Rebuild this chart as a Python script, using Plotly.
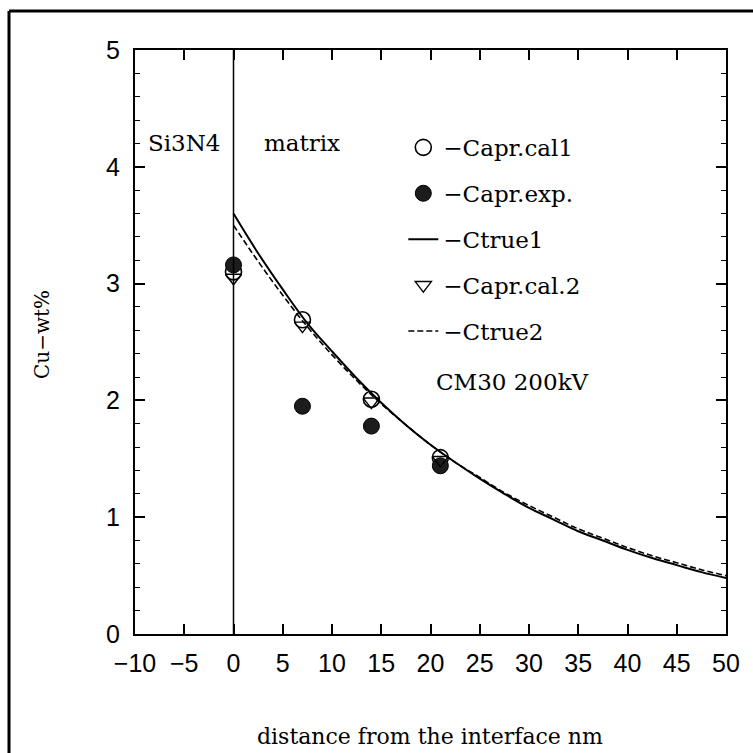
import plotly.graph_objects as go

# Measured Cu concentration near the Si3N4 / matrix interface
meas_x = [0, 7, 14, 21]
capr_cal1 = [3.10, 2.69, 2.01, 1.51]
capr_exp = [3.16, 1.95, 1.78, 1.44]
capr_cal2 = [3.05, 2.64, 1.99, 1.49]

# True concentration profiles
prof_x = [0, 2.5, 5, 7.5, 10, 12.5, 15, 17.5, 20, 22.5, 25,
          27.5, 30, 32.5, 35, 37.5, 40, 42.5, 45, 47.5, 50]
ctrue1 = [3.60, 3.26, 2.95, 2.66, 2.42, 2.19, 1.98, 1.79, 1.62, 1.47, 1.33,
          1.20, 1.08, 0.98, 0.88, 0.80, 0.72, 0.65, 0.59, 0.53, 0.48]
ctrue2 = [3.50, 3.19, 2.90, 2.63, 2.39, 2.17, 1.97, 1.79, 1.62, 1.47, 1.34,
          1.21, 1.10, 1.00, 0.90, 0.82, 0.74, 0.67, 0.61, 0.55, 0.50]

interface_x = 0
x_ticks = list(range(-10, 55, 5))
y_ticks = [0, 1, 2, 3, 4, 5]

serif = "DejaVu Serif"
sans = "Liberation Sans"

fig = go.Figure()

fig.add_trace(go.Scatter(
    x=meas_x, y=capr_cal1, mode="markers", name="\u2212Capr.cal1",
    legendgroup="a",
    marker=dict(symbol="circle-open", size=16, color="black",
                line=dict(width=1.6, color="black")),
))
fig.add_trace(go.Scatter(
    x=meas_x, y=capr_exp, mode="markers", name="\u2212Capr.exp.",
    legendgroup="b",
    marker=dict(symbol="circle", size=16, color="#1c1c1c",
                line=dict(width=1, color="black")),
))
fig.add_trace(go.Scatter(
    x=prof_x, y=ctrue1, mode="lines", name="\u2212Ctrue1",
    legendgroup="c", line=dict(color="black", width=2, shape="spline"),
))
fig.add_trace(go.Scatter(
    x=meas_x, y=capr_cal2, mode="markers", name="\u2212Capr.cal.2",
    legendgroup="d",
    marker=dict(symbol="triangle-down-open", size=14, color="black",
                line=dict(width=1.4, color="black")),
))
fig.add_trace(go.Scatter(
    x=prof_x, y=ctrue2, mode="lines", name="\u2212Ctrue2",
    legendgroup="e",
    line=dict(color="black", width=1.6, shape="spline", dash="6px,3px"),
))

# Interface line
fig.add_vline(x=interface_x, line=dict(color="black", width=1.5))

# Page frame: left and top edges
frame = dict(color="black", width=3)
fig.add_shape(type="line", xref="paper", yref="paper",
              x0=-0.2132, x1=-0.2132, y0=-0.3, y1=1.0668, line=frame)
fig.add_shape(type="line", xref="paper", yref="paper",
              x0=-0.2132, x1=1.2, y0=1.0668, y1=1.0668, line=frame)

txt = dict(family=serif, size=23, color="black")
fig.add_annotation(x=-5, y=4.2, text="Si3N4", showarrow=False, font=txt)
fig.add_annotation(x=7, y=4.2, text="matrix", showarrow=False, font=txt)
fig.add_annotation(x=20.4, y=2.16, text="CM30 200kV", showarrow=False,
                   font=txt, xanchor="left")

fig.add_annotation(xref="paper", yref="paper", x=0.499, y=-0.2,
                   text="distance from the interface nm", showarrow=False,
                   font=dict(family=serif, size=22, color="black"))
fig.add_annotation(xref="paper", yref="paper", x=-0.181, y=0.512,
                   text="Cu\u2212wt%", showarrow=False, textangle=-90,
                   font=dict(family=serif, size=20, color="black"))

axis_common = dict(
    showline=True, linecolor="black", linewidth=2, mirror="ticks",
    ticks="inside", tickcolor="black", tickwidth=1.5, ticklen=10,
    showgrid=False, zeroline=False,
    tickfont=dict(family=sans, size=25, color="black"),
)

fig.update_xaxes(range=[-10, 50], tickvals=x_ticks,
                 ticktext=[str(v).replace("-", "\u2212") for v in x_ticks],
                 ticklabelstandoff=6, **axis_common)
fig.update_yaxes(range=[0, 5], tickvals=y_ticks,
                 minor=dict(dtick=0.2, ticks="inside", ticklen=5,
                            tickcolor="black", tickwidth=1.2),
                 ticklabelstandoff=8, **axis_common)

fig.update_layout(
    width=753, height=753,
    margin=dict(l=135, r=27, t=50, b=119),
    plot_bgcolor="white", paper_bgcolor="white",
    showlegend=True,
    legend=dict(x=0.454, y=0.87, xanchor="left", yanchor="top",
                bgcolor="rgba(0,0,0,0)", borderwidth=0,
                traceorder="grouped", tracegroupgap=13,
                font=dict(family=serif, size=23, color="black")),
)

fig.write_html("out.html")
